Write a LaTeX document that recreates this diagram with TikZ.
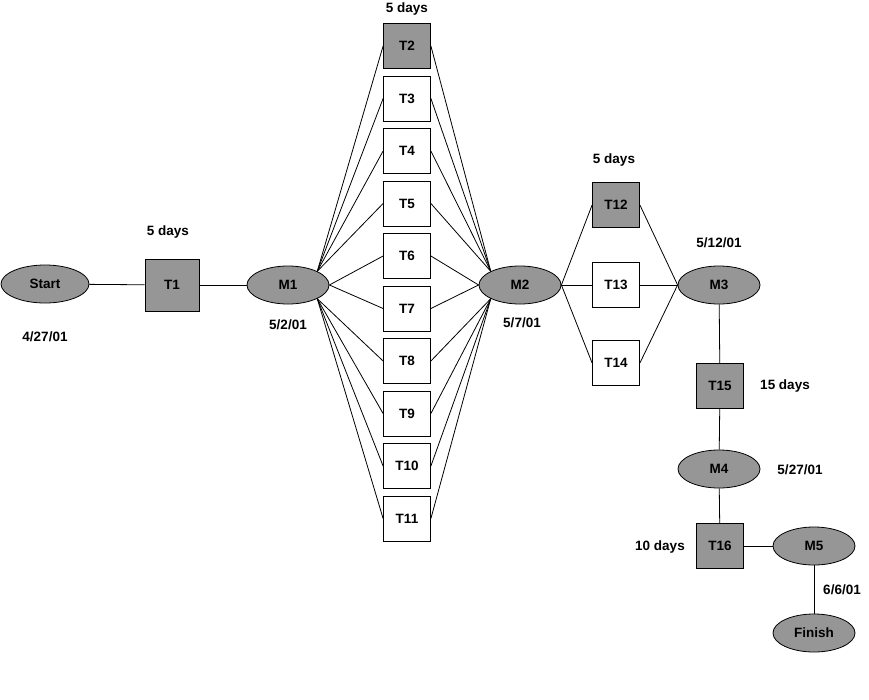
\documentclass[tikz,border=0pt]{standalone}
\usepackage{fontspec}
\setmainfont{Liberation Sans}
\usetikzlibrary{shapes.geometric}
\definecolor{nodegray}{RGB}{150,150,150}
\begin{document}
\begin{tikzpicture}[x=1pt,y=-1pt,
  every node/.style={font=\fontsize{13.5}{15}\selectfont\bfseries},
  ms/.style={ellipse,draw,fill=nodegray,minimum width=82pt,minimum height=38pt,inner sep=0pt,line width=0.8pt},
  task/.style={rectangle,draw,fill=white,minimum width=47pt,minimum height=45pt,inner sep=0pt,line width=0.8pt},
  crit/.style={task,fill=nodegray},
  lbl/.style={inner sep=0pt},
  link/.style={line width=0.8pt}]
\useasboundingbox (0,0) rectangle (869,699);
\node[ms,minimum width=88pt] (start) at (45,284) {Start};
\node[crit,minimum width=54pt,minimum height=52pt] (t1) at (172,285) {T1};
\node[ms] (m1) at (288,285) {M1};
\node[crit] (t2) at (407,46) {T2};
\node[task] (t3) at (407,98.5) {T3};
\node[task] (t4) at (407,151) {T4};
\node[task] (t5) at (407,203.5) {T5};
\node[task] (t6) at (407,256) {T6};
\node[task] (t7) at (407,308.5) {T7};
\node[task] (t8) at (407,361) {T8};
\node[task] (t9) at (407,413.5) {T9};
\node[task] (t10) at (407,466) {T10};
\node[task] (t11) at (407,518.5) {T11};
\node[ms] (m2) at (520,285) {M2};
\node[crit] (t12) at (616,205) {T12};
\node[task] (t13) at (616,285) {T13};
\node[task] (t14) at (616,363) {T14};
\node[ms] (m3) at (719,285) {M3};
\node[crit] (t15) at (720,386) {T15};
\node[ms] (m4) at (719,469) {M4};
\node[crit] (t16) at (720,546) {T16};
\node[ms] (m5) at (814,546) {M5};
\node[ms] (finish) at (814,633) {Finish};

\node[lbl] (l1) at (168,232) {5 days};
\node[lbl] (l2) at (45,337) {4/27/01};
\node[lbl] (l3) at (288,325) {5/2/01};
\node[lbl] (l4) at (407,9) {5 days};
\node[lbl] (l5) at (522,323) {5/7/01};
\node[lbl] (l6) at (614,160) {5 days};
\node[lbl] (l7) at (719,243) {5/12/01};
\node[lbl] (l8) at (785,386) {15 days};
\node[lbl] (l9) at (800,470) {5/27/01};
\node[lbl] (l10) at (660,547) {10 days};
\node[lbl] (l11) at (842,590) {6/6/01};

\draw[link] (start) -- (t1);
\draw[link] (t1) -- (m1);
\foreach \t in {t2,t3,t4,t5}{
  \draw[link] (m1.north east) -- (\t.west);
  \draw[link] (\t.east) -- (m2.north west);
}
\foreach \t in {t6,t7}{
  \draw[link] (m1.east) -- (\t.west);
  \draw[link] (\t.east) -- (m2.west);
}
\foreach \t in {t8,t9,t10,t11}{
  \draw[link] (m1.south east) -- (\t.west);
  \draw[link] (\t.east) -- (m2.south west);
}
\foreach \t in {t12,t13,t14}{
  \draw[link] (m2.east) -- (\t.west);
  \draw[link] (\t.east) -- (m3.west);
}
\draw[link] (m3) -- (t15);
\draw[link] (t15) -- (m4);
\draw[link] (m4) -- (t16);
\draw[link] (t16) -- (m5);
\draw[link] (m5) -- (finish);
\end{tikzpicture}
\end{document}
